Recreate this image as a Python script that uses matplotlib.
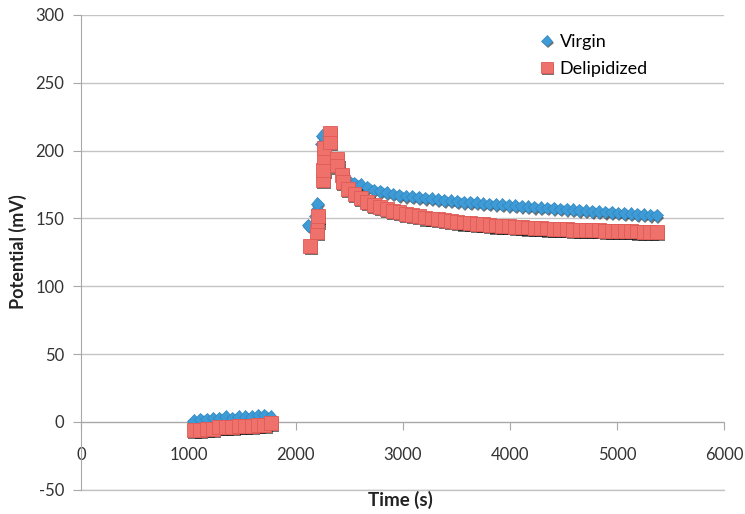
import matplotlib.pyplot as plt
import matplotlib.patheffects as pe

# Virgin (blue diamonds)
virgin_t1 = [1050, 1110, 1170, 1230, 1290, 1350, 1410, 1470, 1530, 1590, 1650, 1710, 1770]
virgin_v1 = [1, 2, 2, 3, 3, 4, 3, 4, 4, 4, 5, 5, 4]
virgin_t2 = [2120, 2190, 2200, 2205, 2245, 2250, 2310, 2380, 2440]
virgin_v2 = [145, 152, 157, 161, 205, 211, 206, 193, 184]

# Delipidized (red squares)
delip_t1 = [1050, 1110, 1170, 1230, 1290, 1350, 1410, 1470, 1530, 1590, 1650, 1710, 1770]
delip_v1 = [-6, -6, -5, -5, -4, -4, -4, -3, -3, -3, -2, -2, -1]
delip_t2 = [2136, 2200, 2205, 2210, 2255, 2260, 2262, 2265, 2320, 2322, 2385, 2390, 2435, 2440]
delip_v2 = [130, 140, 148, 152, 178, 186, 195, 202, 213, 206, 194, 189, 182, 177]

# relaxation tail, shared time base
tail_t = [2490, 2550, 2610, 2670, 2730, 2790, 2850, 2910, 2970, 3030, 3090, 3150,
          3210, 3270, 3330, 3390, 3450, 3510, 3570, 3630, 3690, 3750, 3810, 3870,
          3930, 3990, 4050, 4110, 4170, 4230, 4290, 4350, 4410, 4470, 4530, 4590,
          4650, 4710, 4770, 4830, 4890, 4950, 5010, 5070, 5130, 5190, 5250, 5310, 5370]
virgin_tail = [178, 176, 175, 173, 171, 170, 169, 168, 167, 166.5, 166, 165.5,
               165, 164.5, 164, 163.5, 163, 162.5, 162, 161.8, 161.5, 161, 160.7, 160.4,
               160, 159.7, 159.4, 159, 158.7, 158.4, 158, 157.7, 157.4, 157, 156.7, 156.4,
               156, 155.7, 155.4, 155, 154.7, 154.4, 154, 153.7, 153.4, 153, 152.8, 152.5, 152.2]
delip_tail = [172, 168, 165, 162, 160, 158.5, 157, 155.5, 154.5, 153.5, 152.5, 151.5,
              150.7, 150, 149.3, 148.7, 148, 147.5, 147, 146.5, 146, 145.6, 145.2, 144.8,
              144.5, 144.2, 143.9, 143.6, 143.3, 143, 142.8, 142.6, 142.4, 142.2, 142, 141.8,
              141.6, 141.5, 141.3, 141.2, 141, 140.9, 140.8, 140.6, 140.5, 140.4, 140.3, 140.2, 140.1]

plt.rcParams['font.family'] = ['Lato', 'DejaVu Sans']
plt.rcParams['axes.unicode_minus'] = False

fig = plt.figure(figsize=(7.45, 5.14), dpi=100)
ax = fig.add_axes([0.109, 0.047, 0.863, 0.924])

shadow = [pe.SimplePatchShadow(offset=(1, -1.5), shadow_rgbFace='black', alpha=0.55), pe.Normal()]
blue = '#3f9bd6'
red = '#ef716c'

vt = virgin_t1 + virgin_t2 + tail_t
vv = virgin_v1 + virgin_v2 + virgin_tail
dt = delip_t1 + delip_t2 + tail_t
dv = delip_v1 + delip_v2 + delip_tail

ax.plot(vt, vv, linestyle='none', marker='D', markersize=6.5, color=blue,
        markeredgecolor='#2f86c0', markeredgewidth=0.5, label='Virgin',
        path_effects=shadow, zorder=3)
ax.plot(dt, dv, linestyle='none', marker='s', markersize=10, color=red,
        markeredgecolor='#e05a55', markeredgewidth=0.6, label='Delipidized',
        path_effects=shadow, zorder=4)

ax.set_xlim(0, 6000)
ax.set_ylim(-50, 300)
ax.set_xticks([0, 1000, 2000, 3000, 4000, 5000, 6000])
ax.set_yticks([-50, 0, 50, 100, 150, 200, 250, 300])

ax.grid(axis='y', color='#c4c4c4', linewidth=1)
ax.axhline(-50, color='#c4c4c4', linewidth=1, clip_on=False, zorder=0.5)
ax.set_axisbelow(True)
for s in ['top', 'right']:
    ax.spines[s].set_visible(False)
ax.spines['bottom'].set_position(('data', 0))
ax.spines['bottom'].set_color('#a8a8a8')
ax.spines['left'].set_color('#a8a8a8')
ax.tick_params(axis='both', colors='#a8a8a8', labelcolor='#333333', labelsize=12, length=6)
ax.tick_params(axis='x', direction='out', pad=12)
ax.tick_params(axis='y', pad=6)

fig.text(0.537, 0.027, 'Time (s)', ha='center', va='center', fontsize=13.5, fontweight='bold', color='#222222')
fig.text(0.024, 0.51, 'Potential (mV)', ha='center', va='center', rotation=90,
         fontsize=13, fontweight='bold', color='#222222')

ax.legend(loc='upper left', bbox_to_anchor=(0.717, 0.948), bbox_transform=fig.transFigure,
          frameon=False, fontsize=13, handlelength=0.6, handletextpad=0.4, labelspacing=0.6,
          borderaxespad=0, markerscale=0.85)

fig.savefig('out.png', dpi=100)
